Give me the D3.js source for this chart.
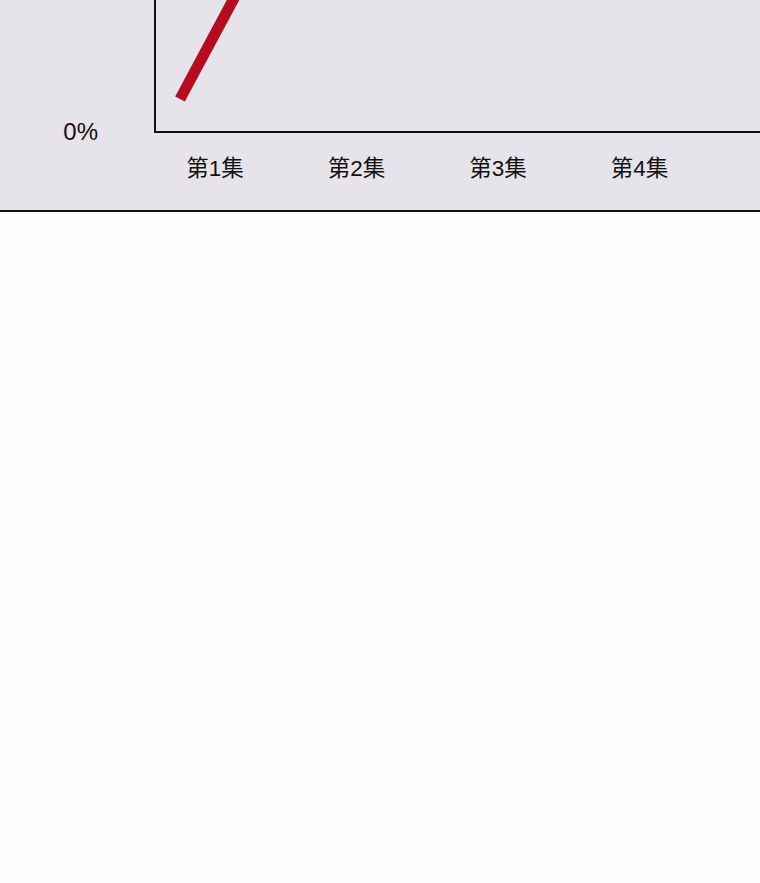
<!DOCTYPE html>
<html>
<head>
<meta charset="utf-8">
<script src="https://cdn.jsdelivr.net/npm/d3@7"></script>
<style>
  html, body { margin: 0; padding: 0; background: #fefefe; }
  svg { display: block; }
</style>
</head>
<body>
<div id="chart"></div>
<script>
// data
let episodes = ["第1集", "第2集", "第3集", "第4集"];
let ratings = [1.1, 9.9, 11.5, 13.0]; // percent
let yTicks = [0];

// colors
let colorPanel = "#e7e3ea";
let colorLine = "#b30d1f";
let colorInk = "#111111";

let width = 760,
    height = 883;

let svg = d3.select("#chart").append("svg")
    .attr("width", width)
    .attr("height", height);

// plot box (its top lies above the visible window)
let plotLeft = 155, plotBottom = 132, plotTop = -468, panelBottom = 211;

svg.append("rect")
    .attr("x", 0)
    .attr("y", plotTop - 100)
    .attr("width", width)
    .attr("height", panelBottom - (plotTop - 100))
    .style("fill", colorPanel);

svg.append("line")
    .attr("x1", 0).attr("x2", width)
    .attr("y1", panelBottom).attr("y2", panelBottom)
    .style("stroke", colorInk)
    .style("stroke-width", 2);

let x = d3.scaleBand()
    .domain(episodes)
    .range([180, 180 + 141.5 * episodes.length])
    .padding(0);

let y = d3.scaleLinear()
    .domain([0, 20])
    .range([plotBottom, plotTop]);

// y tick labels
let yAxis = svg.append("g")
    .attr("transform", "translate(98,0)")
    .call(d3.axisLeft(y)
        .tickValues(yTicks)
        .tickSize(0)
        .tickPadding(0)
        .tickFormat(d => d + "%"));
yAxis.select(".domain").remove();
yAxis.selectAll("text")
    .style("font-family", "'Liberation Sans', Arial, 'Noto Sans CJK SC', sans-serif")
    .style("font-size", "24px")
    .style("fill", colorInk);

// x tick labels
svg.append("g")
    .selectAll("text")
    .data(episodes)
    .enter()
    .append("text")
    .attr("x", d => x(d) + 35)
    .attr("y", 176)
    .attr("text-anchor", "middle")
    .style("font-family", "'Liberation Sans', Arial, 'Noto Sans CJK SC', sans-serif")
    .style("font-size", "22.5px")
    .style("fill", colorInk)
    .text(d => d);

// line
let line = d3.line()
    .x((d, i) => x(episodes[i]))
    .y(d => y(d));

svg.append("path")
    .datum(ratings)
    .attr("d", line)
    .style("fill", "none")
    .style("stroke", colorLine)
    .style("stroke-width", 11)
    .style("stroke-linejoin", "miter");

// axis lines
svg.append("path")
    .attr("d", "M" + plotLeft + "," + plotTop + "V" + plotBottom + "H" + width)
    .style("fill", "none")
    .style("stroke", colorInk)
    .style("stroke-width", 2);
</script>
</body>
</html>
